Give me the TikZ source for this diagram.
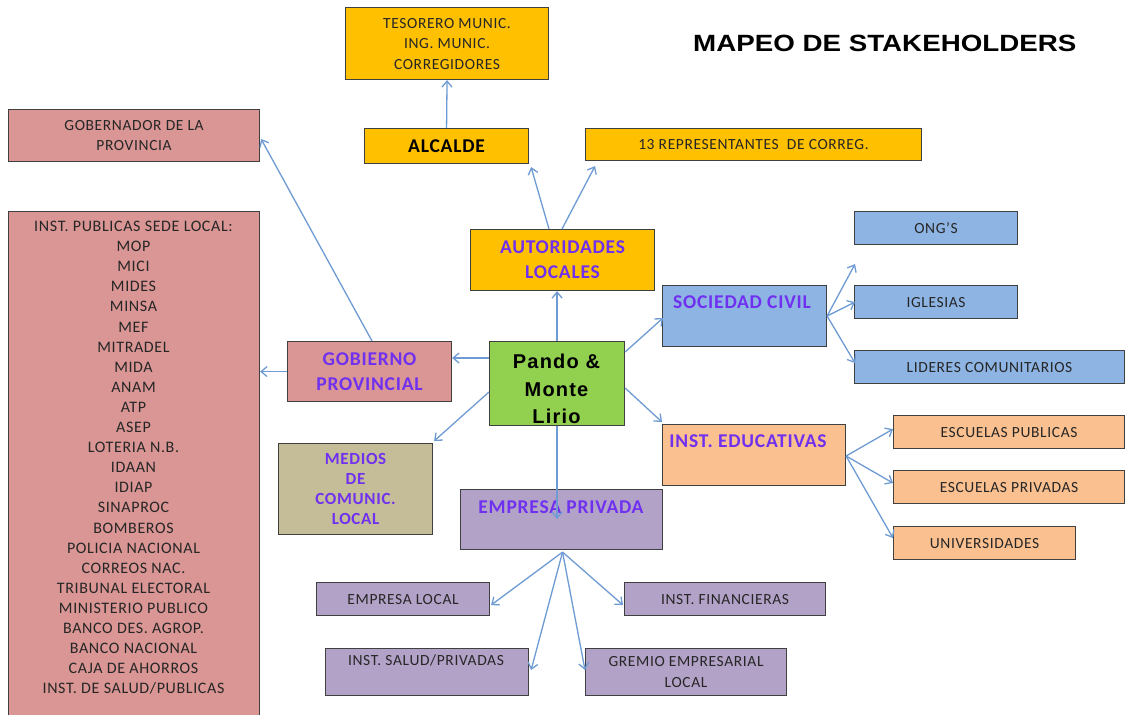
\documentclass[tikz,border=0pt]{standalone}
\usepackage{fontspec}
\setmainfont{Carlito}[LetterSpace=4]
\newfontfamily\pandofont[LetterSpace=6]{Liberation Sans}
\newfontfamily\titlefont{Liberation Sans}
\usetikzlibrary{arrows.meta,calc}
\definecolor{gold}{HTML}{FFC000}
\definecolor{rose}{HTML}{D99694}
\definecolor{sky}{HTML}{8EB4E3}
\definecolor{leaf}{HTML}{92D050}
\definecolor{peach}{HTML}{FAC090}
\definecolor{lilac}{HTML}{B3A2C7}
\definecolor{khaki}{HTML}{C4BD97}
\definecolor{hdrviolet}{HTML}{7030F0}
\definecolor{linkblue}{HTML}{6E9BD3}
\definecolor{boxline}{HTML}{404040}
\definecolor{ink}{HTML}{262626}
\begin{document}
\begin{tikzpicture}[x=1pt,y=-1pt,
  box/.style={draw=boxline, line width=1.1pt, inner sep=0pt, anchor=north west, align=center,
    font=\fontsize{15.5}{20.5}\selectfont, text=ink},
  txt/.style={font=\fontsize{15.5}{20.5}\selectfont, text=ink, align=center, inner sep=0pt},
  hdr/.style={font=\fontsize{19.5}{25}\selectfont\bfseries, text=hdrviolet, align=center, inner sep=0pt},
  link/.style={draw=linkblue, line width=1.3pt, -{Straight Barb[length=6pt,width=10pt]}}]
\clip (0,0) rectangle (1125,715);
\fill[white] (0,0) rectangle (1125,715);

% title
\node[anchor=west, inner sep=0pt, font=\titlefont\bfseries\fontsize{23.5}{24}\selectfont] (title) at (693,43)
  {\scalebox{1.18}[1]{MAPEO DE STAKEHOLDERS}};

% top (gold)
\node[box, fill=gold, minimum width=203pt, minimum height=72pt] (tes) at (345,7) {TESORERO MUNIC.\\ING. MUNIC.\\CORREGIDORES};
\node[box, fill=gold, minimum width=164pt, minimum height=35pt, font=\fontsize{19.5}{22}\selectfont\bfseries, text=black] (alc) at (364,128) {ALCALDE};
\node[box, fill=gold, minimum width=336pt, minimum height=32pt] (rep) at (585,128) {13 REPRESENTANTES\ \ DE CORREG.};
\node[box, fill=gold, minimum width=184pt, minimum height=61pt, hdr] (aut) at (470,229) {AUTORIDADES\\LOCALES};

% left (rose)
\node[box, fill=rose, minimum width=251pt, minimum height=52pt] (gob) at (8,109) {GOBERNADOR DE LA\\PROVINCIA};
\node[box, fill=rose, minimum width=251pt, minimum height=520pt] (inst) at (8,211) {};
\node[txt, anchor=north, font=\fontsize{16}{20.1}\selectfont] (insttxt) at (133.5,221) {INST. PUBLICAS SEDE LOCAL:\\MOP\\MICI\\MIDES\\MINSA\\MEF\\MITRADEL\\MIDA\\ANAM\\ATP\\ASEP\\LOTERIA N.B.\\IDAAN\\IDIAP\\SINAPROC\\BOMBEROS\\POLICIA NACIONAL\\CORREOS NAC.\\TRIBUNAL\ ELECTORAL\\MINISTERIO\ PUBLICO\\BANCO DES.\ AGROP.\\BANCO NACIONAL\\CAJA DE AHORROS\\INST. DE SALUD/PUBLICAS};
\node[box, fill=rose, minimum width=164pt, minimum height=60pt, hdr] (gprov) at (287,341) {GOBIERNO\\PROVINCIAL};

% center
\node[box, fill=leaf, minimum width=135pt, minimum height=84pt] (pando) at (489,341) {};
\node[inner sep=0pt, align=center, font=\pandofont\bfseries\fontsize{20}{27.5}\selectfont, text=black] (pandotxt) at (556.5,389) {Pando \&\\Monte\\Lirio};

% civil society (blue)
\node[box, fill=sky, minimum width=164pt, minimum height=61pt] (soc) at (662,285) {};
\node[hdr] (soctxt) at (742,302) {SOCIEDAD CIVIL};
\node[box, fill=sky, minimum width=163pt, minimum height=33pt] (ong) at (854,211) {ONG'S};
\node[box, fill=sky, minimum width=163pt, minimum height=33pt] (igl) at (854,285) {IGLESIAS};
\node[box, fill=sky, minimum width=270pt, minimum height=33pt] (lid) at (854,350) {LIDERES COMUNITARIOS};

% education (peach)
\node[box, fill=peach, minimum width=183pt, minimum height=61pt] (edu) at (662,424) {};
\node[hdr] (edutxt) at (748,441) {INST. EDUCATIVAS};
\node[box, fill=peach, minimum width=231pt, minimum height=33pt] (esp) at (893,415) {ESCUELAS PUBLICAS};
\node[box, fill=peach, minimum width=231pt, minimum height=33pt] (esr) at (893,470) {ESCUELAS PRIVADAS};
\node[box, fill=peach, minimum width=182pt, minimum height=33pt] (uni) at (893,526) {UNIVERSIDADES};

% media
\node[box, fill=khaki, minimum width=154pt, minimum height=91pt, hdr, font=\fontsize{17}{20}\selectfont\bfseries] (med) at (278,443) {MEDIOS\\DE\\COMUNIC.\\LOCAL};

% private sector (lilac)
\node[box, fill=lilac, minimum width=202pt, minimum height=60pt] (emp) at (460,489) {};
\node[hdr] (emptxt) at (561,507) {EMPRESA PRIVADA};
\node[box, fill=lilac, minimum width=173pt, minimum height=33pt] (eloc) at (316,582) {EMPRESA LOCAL};
\node[box, fill=lilac, minimum width=201pt, minimum height=33pt] (fin) at (624,582) {INST.\ FINANCIERAS};
\node[box, fill=lilac, minimum width=203pt, minimum height=47pt] (sal) at (325,648) {};
\node[txt] (saltxt) at (426,660) {INST. SALUD/PRIVADAS};
\node[box, fill=lilac, minimum width=201pt, minimum height=47pt] (gre) at (585,648) {GREMIO EMPRESARIAL\\LOCAL};

% connectors
\draw[link] (alc.north) -- (tes.south);
\draw[link] ($(aut.north west)+(79,0)$) -- ($(alc.south east)+(2,3)$);
\draw[link] ($(aut.north west)+(92,0)$) -- ($(rep.south west)+(10,5)$);
\draw[link] (pando.north) -- (pando.north |- aut.south);
\draw[link] ($(pando.north west)+(0,17)$) -- ($(gprov.north east)+(0,17)$);
\draw[link] ($(gprov.north west)+(85,0)$) -- ($(gob.north east)+(1,30)$);
\draw[link] (gprov.west) -- (gprov.west -| inst.east);
\draw[link] ($(pando.north east)+(0,11)$) -- ($(soc.north west)+(1,33)$);
\draw[link] ($(pando.north east)+(0,47)$) -- ($(edu.north west)+(0,-2)$);
\draw[link] ($(pando.north west)+(0,51)$) -- ($(med.north east)+(1,-2)$);
\draw[link] (pando.south) -- ($(pando.south |- emp.north)+(0,30)$);

\coordinate (ongtip) at ($(ong.south west)+(1,19)$);
\draw[link] ($(soc.north east)+(0,31)$) -- (ongtip);
\draw[link] ($(soc.north east)+(0,31)$) -- ($(igl.west)+(1,0)$);
\draw[link] ($(soc.north east)+(0,31)$) -- ($(lid.west)+(1,-4)$);

\draw[link] ($(edu.north east)+(0,32)$) -- ($(esp.west)+(0,-3)$);
\draw[link] ($(edu.north east)+(0,32)$) -- ($(esr.west)+(0,-4)$);
\draw[link] ($(edu.north east)+(0,32)$) -- ($(uni.west)+(0,-5)$);

\draw[link] ($(emp.south)+(1,2)$) -- ($(eloc.east)+(1,6)$);
\draw[link] ($(emp.south)+(1,2)$) -- ($(fin.west)+(-1,6)$);
\draw[link] ($(emp.south)+(1,2)$) -- ($(sal.north east)+(2,22)$);
\draw[link] ($(emp.south)+(1,2)$) -- ($(gre.north west)+(0,22)$);
\end{tikzpicture}
\end{document}
